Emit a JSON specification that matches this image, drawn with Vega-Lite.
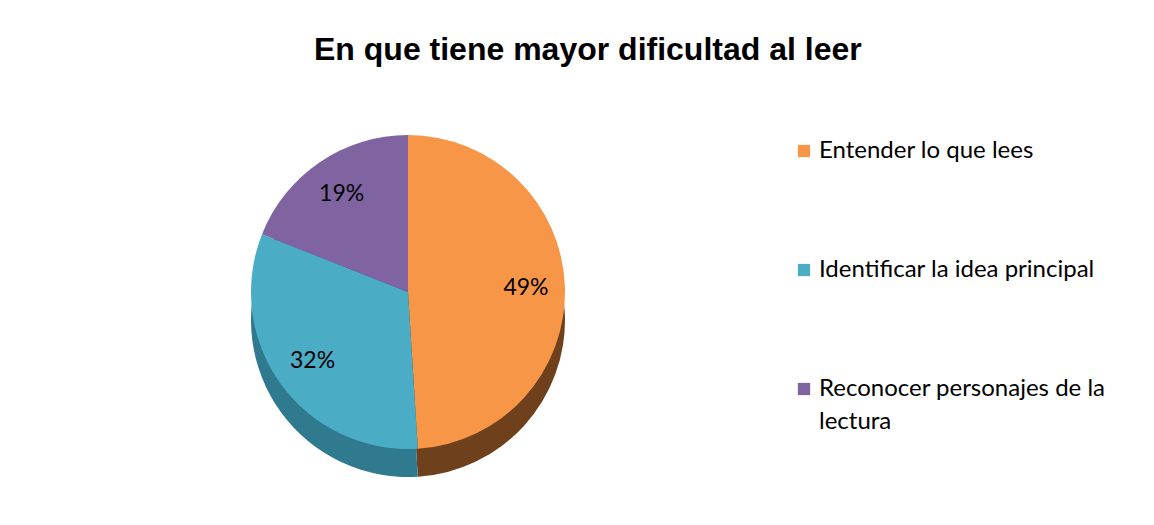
{
  "$schema": "https://vega.github.io/schema/vega-lite/v6.json",
  "width": 780,
  "height": 406,
  "padding": {"left": 18, "top": 34, "right": 5, "bottom": 5},
  "background": "white",
  "title": {
    "text": "En que tiene mayor dificultad al leer",
    "font": "Liberation Sans",
    "fontSize": 32,
    "fontWeight": "bold",
    "color": "#000000",
    "anchor": "start",
    "dx": 296,
    "offset": 22
  },
  "data": {
    "values": [
      {"cat": "Entender lo que lees", "value": 49, "ord": 1, "label": "49%"},
      {"cat": "Identificar la idea principal", "value": 32, "ord": 2, "label": "32%"},
      {"cat": "Reconocer personajes de la lectura", "value": 19, "ord": 3, "label": "19%"}
    ]
  },
  "layer": [
    {
      "mark": {"type": "arc", "outerRadius": 157, "yOffset": 28, "stroke": null},
      "encoding": {
        "theta": {"field": "value", "type": "quantitative", "stack": true},
        "order": {"field": "ord", "type": "quantitative"},
        "color": {
          "field": "cat",
          "type": "nominal",
          "scale": {
            "domain": ["Entender lo que lees", "Identificar la idea principal", "Reconocer personajes de la lectura"],
            "range": ["#6e401c", "#2f7a8f", "#5a4672"]
          },
          "legend": null
        }
      }
    },
    {
      "mark": {"type": "arc", "outerRadius": 157, "stroke": null},
      "encoding": {
        "theta": {"field": "value", "type": "quantitative", "stack": true},
        "order": {"field": "ord", "type": "quantitative"},
        "color": {
          "field": "cat",
          "type": "nominal",
          "scale": {
            "domain": ["Entender lo que lees", "Identificar la idea principal", "Reconocer personajes de la lectura"],
            "range": ["#F79646", "#4BACC6", "#8064A2"]
          },
          "legend": {
            "title": null,
            "orient": "none",
            "legendX": 774,
            "legendY": 50,
            "symbolType": "square",
            "symbolSize": 150,
            "symbolStrokeWidth": 0,
            "labelFont": "Lato",
            "labelFontSize": 24,
            "labelColor": "#000000",
            "labelOffset": 3,
            "labelLimit": 400,
            "rowPadding": 95,
            "labelExpr": "datum.label == 'Reconocer personajes de la lectura' ? ['Reconocer personajes de la', 'lectura'] : datum.label",
            "encode": {"labels": {"enter": {"lineHeight": {"value": 33}}, "update": {"lineHeight": {"value": 33}}}}
          }
        }
      }
    },
    {
      "mark": {"type": "text", "radius": 118, "font": "Lato", "fontSize": 23, "color": "#000000"},
      "encoding": {
        "theta": {"field": "value", "type": "quantitative", "stack": true},
        "order": {"field": "ord", "type": "quantitative"},
        "text": {"field": "label", "type": "nominal"}
      }
    }
  ],
  "resolve": {"scale": {"color": "independent"}},
  "config": {"view": {"stroke": null}, "style": {"guide-label": {"lineHeight": 33}}}
}
